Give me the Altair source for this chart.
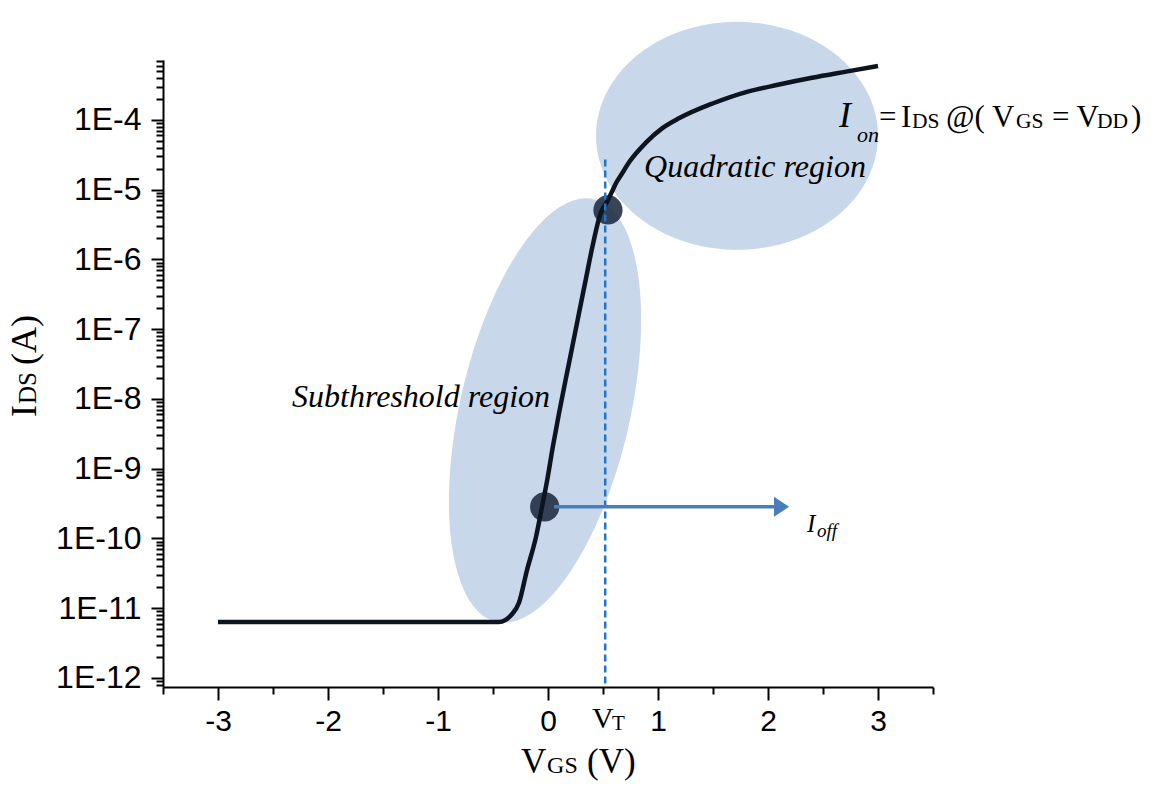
import altair as alt
import pandas as pd
import numpy as np

# ---- data ----
vgs = [-3.0, -2.0, -1.0, -0.45, -0.385, -0.336, -0.264, -0.191, -0.109, -0.055, -0.009,
       0.045, 0.10, 0.161, 0.221, 0.282, 0.343, 0.403, 0.479, 0.54, 0.58, 0.62, 0.673,
       0.74, 0.89, 1.04, 1.19, 1.49, 1.80, 2.10, 2.40, 2.71, 3.0]
ids = [6.3e-12, 6.3e-12, 6.3e-12, 6.3e-12, 6.8e-12, 7.9e-12, 1.19e-11, 3.5e-11, 1.05e-10,
       2.8e-10, 6.6e-10, 2.1e-9, 6.2e-9, 1.9e-8, 5.6e-8, 1.7e-7, 5.1e-7, 1.5e-6, 4.6e-6,
       6.8e-6, 9.2e-6, 1.25e-5, 1.7e-5, 2.5e-5, 4.7e-5, 7.6e-5, 1.05e-4, 1.7e-4, 2.5e-4,
       3.2e-4, 4.0e-4, 4.9e-4, 5.9e-4]

x_major = [-3, -2, -1, 0, 1, 2, 3]
x_minor = [-3.5, -2.5, -1.5, -0.5, 0.5, 1.5, 2.5, 3.5]
y_major = [1e-12, 1e-11, 1e-10, 1e-9, 1e-8, 1e-7, 1e-6, 1e-5, 1e-4]
y_tick_labels = ["1E-12", "1E-11", "1E-10", "1E-9", "1E-8", "1E-7", "1E-6", "1E-5", "1E-4"]
x_domain = [-3.5, 3.5]
y_domain = [7.4e-13, 7.2e-4]

# annotation points (data coordinates)
v_threshold = 0.52
vt_line_top = 2.7e-5
dot_v = [-0.03, 0.545]
dot_i = [2.83e-10, 5.1e-6]
arrow_v = [0.055, 2.08]
arrow_head_v = 2.123
arrow_i = 2.83e-10
ell_sub = dict(V=-0.027, I=6.8e-9)
ell_quad = dict(V=1.718, I=5.9e-5)

y_minor = [k * 10.0 ** e for e in range(-13, -3) for k in range(2, 10)
           if y_domain[0] <= k * 10.0 ** e <= y_domain[1]]

xs = alt.Scale(domain=x_domain, nice=False, zero=False)
ys = alt.Scale(type="log", domain=y_domain, nice=False)

is_minor_y = "abs(log(datum.value)/LN10 - round(log(datum.value)/LN10)) > 0.01"
y_label_expr = ("abs(log(datum.value)/LN10 - round(log(datum.value)/LN10)) < 0.01 ? "
                "['" + "','".join(y_tick_labels) + "'][round(log(datum.value)/LN10) + 12] : ''")

x_axis = alt.Axis(
    values=sorted(x_major + x_minor), title=None, grid=False,
    labelExpr="datum.value % 1 == 0 ? '' + datum.value : ''",
    labelFont="Liberation Sans", labelFontSize=30, labelColor="black", labelPadding=6,
    domainColor="black", domainWidth=2, tickColor="black", tickWidth=2, tickSize=13,
    tickDash={"condition": {"test": "datum.value % 1 != 0", "value": [7, 30]}, "value": []},
)
y_axis = alt.Axis(
    values=sorted(y_major + y_minor), title=None, grid=False,
    labelExpr=y_label_expr,
    labelFont="Liberation Sans", labelFontSize=32, labelColor="black", labelPadding=10,
    domainColor="black", domainWidth=2, tickColor="black", tickWidth=2, tickSize=12,
    tickDash={"condition": {"test": is_minor_y, "value": [7, 30]}, "value": []},
)
X = alt.X("V:Q", scale=xs, axis=x_axis)
Y = alt.Y("I:Q", scale=ys, axis=y_axis)


def ellipse_path(sx, sy, n=90):
    pts = [f"{sx*np.cos(t):.4f},{sy*np.sin(t):.4f}" for t in np.linspace(0, 2 * np.pi, n, endpoint=False)]
    return "M" + " L".join(pts) + " Z"


ELL_COLOR = "#c9d7ea"
sub_ell = alt.Chart(pd.DataFrame({"V": [ell_sub["V"]], "I": [ell_sub["I"]]})).mark_point(
    shape=ellipse_path(85 / 217, 1.0), size=(2 * 217) ** 2, angle=13, filled=True,
    fill=ELL_COLOR, opacity=1, strokeWidth=0).encode(x=X, y=Y)
quad_ell = alt.Chart(pd.DataFrame({"V": [ell_quad["V"]], "I": [ell_quad["I"]]})).mark_point(
    shape=ellipse_path(1.0, 114 / 141), size=(2 * 141) ** 2, filled=True,
    fill=ELL_COLOR, opacity=1, strokeWidth=0).encode(x=X, y=Y)

dots = alt.Chart(pd.DataFrame({"V": dot_v, "I": dot_i})).mark_circle(
    size=855, color="#1e2a40", opacity=0.88).encode(x=X, y=Y)

curve = alt.Chart(pd.DataFrame({"V": vgs, "I": ids})).mark_line(
    color="#0c1420", strokeWidth=4.5, interpolate="monotone").encode(x=X, y=Y)

vt_line = alt.Chart(pd.DataFrame({"V": [v_threshold], "I": [vt_line_top], "I2": [y_domain[0]]})).mark_rule(
    color="#1f77c9", strokeWidth=2.5, strokeDash=[7, 4]).encode(x=X, y=Y, y2="I2:Q")

arrow = alt.Chart(pd.DataFrame({"V": [arrow_v[0]], "V2": [arrow_v[1]], "I": [arrow_i]})).mark_rule(
    color="#4a7ebb", strokeWidth=3.5).encode(x=X, x2="V2:Q", y=Y)
arrow_head = alt.Chart(pd.DataFrame({"V": [arrow_head_v], "I": [arrow_i]})).mark_point(
    shape="M -0.75,-1 L 0.75,0 L -0.75,1 Z", size=400, filled=True, fill="#4a7ebb",
    opacity=1, strokeWidth=0).encode(x=X, y=Y)


def text_layers(v, i, pieces, angle=0):
    df = pd.DataFrame({"V": [v], "I": [i]})
    out = []
    for t, size, style, dx, dy in pieces:
        out.append(alt.Chart(df).mark_text(
            text=t, font="Liberation Serif", fontSize=size, fontStyle=style,
            align="left", baseline="alphabetic", dx=dx, dy=dy, angle=angle,
            color="black").encode(x=X, y=Y))
    return out


texts = []
texts += text_layers(-2.327, 7.7e-9, [("Subthreshold region", 32, "italic", 0, 0)])
texts += text_layers(0.873, 1.52e-5, [("Quadratic region", 32, "italic", 0, 0)])
texts += text_layers(2.355, 1.24e-10, [("I", 25, "italic", 0, 0), ("off", 19, "italic", 10, 5)])
texts += text_layers(2.645, 7.9e-5, [
    ("I", 36, "italic", 0, 0), ("on", 22, "italic", 18, 15),
    ("=", 31, "normal", 40, 0), ("I", 31, "normal", 62, 0), ("DS", 21.5, "normal", 73, 1),
    ("@( V", 31, "normal", 107, 0), ("GS", 21.5, "normal", 177, 1),
    ("= V", 31, "normal", 213, 0), ("DD", 21.5, "normal", 258, 1),
    (")", 31, "normal", 292, 0)])
texts += text_layers(0.40, 1.92e-13, [("V", 30, "normal", 0, 0), ("T", 21, "normal", 20, 2)])
texts += text_layers(-0.245, 4.35e-14, [("V", 35, "normal", 0, 0), ("GS", 24, "normal", 26, 0),
                                        ("(V)", 35, "normal", 66, 0)])
texts += text_layers(-4.655, 5.5e-9, [("I", 36, "normal", 0, 0), ("DS", 25, "normal", 13, 0),
                                      ("(A)", 36, "normal", 52, 0)], angle=270)

chart = alt.layer(sub_ell, quad_ell, dots, curve, vt_line, arrow, arrow_head, *texts).properties(
    width=770, height=627, autosize="none",
    padding={"left": 163, "top": 60, "right": 228, "bottom": 102},
    background="white",
).configure_view(strokeWidth=0)

chart.save("out.html", embed_options={"renderer": "svg", "actions": False})
